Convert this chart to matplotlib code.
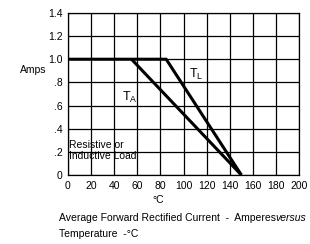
import matplotlib
matplotlib.use("Agg")
import matplotlib.pyplot as plt

plt.rcParams['font.family'] = ['Liberation Sans', 'DejaVu Sans']

# Data
tl_x = [0, 85, 150]
tl_y = [1.0, 1.0, 0.0]
ta_x = [55, 150]
ta_y = [1.0, 0.0]
xticks = [0, 20, 40, 60, 80, 100, 120, 140, 160, 180, 200]
yticks = [0, 0.2, 0.4, 0.6, 0.8, 1.0, 1.2, 1.4]
ytick_labels = ["0", ".2", ".4", ".6", ".8", "1.0", "1.2", "1.4"]

fig = plt.figure(figsize=(3.1, 2.44), dpi=100)
ax = fig.add_axes([0.219, 0.283, 0.746, 0.664])
ax.set_xlim(0, 200)
ax.set_ylim(0, 1.4)
ax.set_xticks(xticks)
ax.set_xticklabels([str(v) for v in xticks], fontsize=7.5)
ax.set_yticks(yticks)
ax.set_yticklabels(ytick_labels, fontsize=7.5)
ax.tick_params(length=0, pad=4)
ax.grid(True, color='black', linewidth=0.9)
for s in ax.spines.values():
    s.set_linewidth(0.9)
    s.set_color('black')

ax.plot(tl_x, tl_y, color='black', linewidth=2.2, solid_capstyle='butt')
ax.plot(ta_x, ta_y, color='black', linewidth=2.2, solid_capstyle='butt')

ax.text(105, 0.84, r"T$_\mathregular{L}$", fontsize=9)
ax.text(47, 0.64, r"T$_\mathregular{A}$", fontsize=9)
ax.text(1, 0.23, "Resistive or", fontsize=7.5)
ax.text(1, 0.135, "Inductive Load", fontsize=7.5)

fig.text(0.065, 0.70, "Amps", fontsize=7.5)
fig.text(0.49, 0.17, "°C", fontsize=7.5)
t1 = fig.text(0.19, 0.095, "Average Forward Rectified Current  -  Amperes", fontsize=7.5)
fig.canvas.draw()
bb = t1.get_window_extent(renderer=fig.canvas.get_renderer())
x_end = bb.x1 / fig.bbox.width
fig.text(x_end, 0.095, "versus", fontsize=7.5, style='italic')
fig.text(0.19, 0.03, "Temperature  -°C", fontsize=7.5)

fig.savefig("out.png", dpi=100)
